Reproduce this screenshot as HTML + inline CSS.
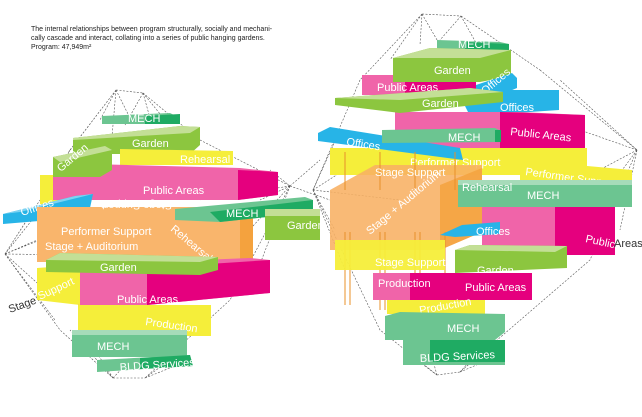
<!DOCTYPE html>
<html><head><meta charset="utf-8"><style>
html,body{margin:0;padding:0;background:#fff;width:642px;height:417px;overflow:hidden}
svg{display:block}
text{font-family:"Liberation Sans",sans-serif;fill:#fff;font-size:11px}
.cap{fill:#222;font-size:7px}
.d{stroke:#555;stroke-width:0.6;stroke-dasharray:2 1.5;fill:none}
</style></head><body>
<svg width="642" height="417" viewBox="0 0 642 417">
<text class="cap" x="31" y="31">The internal relationships between program structurally, socially and mechani-</text>
<text class="cap" x="31" y="40">cally cascade and interact, collating into a series of public hanging gardens.</text>
<text class="cap" x="31" y="49">Program: 47,949m²</text>

<g class="d">
<path d="M116 90 L143 93 M116 90 L70 150 M116 90 L100 120 M116 90 L130 118 M116 90 L110 160 M143 93 L165 120 M143 93 L200 140 M143 93 L125 125 M116 90 L55 170 M143 93 L150 118"/>
<path d="M5 254 L40 200 M5 254 L60 230 M5 254 L45 290 M5 254 L80 255 M5 254 L30 215 M5 254 L55 320 M5 254 L40 240"/>
<path d="M290 186 L270 170 M290 186 L240 240 M290 186 L320 160 M290 186 L250 290 M290 186 L330 200 M290 186 L200 200 M290 186 L260 200"/>
<path d="M113 378 L145 378 M113 378 L95 350 M113 378 L130 360 M145 378 L170 360 M145 378 L190 360 M113 378 L70 330"/>
<path d="M70 150 L40 210 L5 254 M200 140 L290 186 M5 254 L60 330 L113 378 M290 186 L230 300 L145 378"/>
</g>
<g class="d">
<path d="M422 14 L461 16 M422 14 L390 60 M422 14 L420 45 M422 14 L440 45 M461 16 L480 50 M461 16 L440 40 M461 16 L540 70 M422 14 L360 80"/>
<path d="M637 150 L560 80 M637 150 L600 200 M637 150 L590 175 M637 150 L620 230 M637 150 L580 130"/>
<path d="M313 190 L340 130 M313 190 L360 160 M313 190 L335 230 M313 190 L345 270 M313 190 L400 200"/>
<path d="M437 375 L460 372 M437 375 L410 355 M437 375 L430 350 M460 372 L480 350 M460 372 L500 355"/>
<path d="M360 80 L313 190 L380 330 L437 375 M540 70 L637 150 L590 260 L460 372"/>
</g>

<!-- LEFT CLUSTER -->
<polygon points="102,116 170,113 180,118 180,124 102,124" fill="#6cc591"/>
<polygon points="145,116 180,114 180,124 145,124" fill="#1fab63"/>
<text x="128" y="122" font-size="10">MECH</text>
<polygon points="73,138 180,126 200,127 200,145 190,154 73,154" fill="#8cc63f"/>
<polygon points="73,138 180,126 200,127 190,133 73,140" fill="#c3df96"/>
<text x="132" y="147">Garden</text>
<polygon points="120,149 233,151 233,165 120,165" fill="#f5ee3a"/>
<text x="180" y="163" font-size="10">Rehearsal</text>
<rect x="40" y="175" width="18" height="60" fill="#f5ee3a"/>
<polygon points="53,163 240,168 278,172 278,195 238,200 53,200" fill="#f064a9"/>
<polygon points="238,170 278,172 278,195 238,200" fill="#e5007e"/>
<polygon points="53,157 105,146 112,150 112,170 100,177 53,177" fill="#8cc63f"/>
<polygon points="53,157 105,146 112,150 60,162" fill="#c3df96"/>
<text x="57" y="170" font-size="10" transform="rotate(-40 62 166)">Garden</text>
<text x="143" y="194" font-size="11">Public Areas</text>
<polygon points="3,214 75,196 93,194 90,208 75,218 3,224" fill="#27b4e7"/>
<polygon points="3,214 75,196 93,194 20,212" fill="#7dd3f2"/>
<text x="22" y="216" font-size="10" transform="rotate(-18 22 216)">Offices</text>
<rect x="37" y="207" width="216" height="55" fill="#f9b56c"/>
<rect x="240" y="210" width="13" height="50" fill="#f4a23e"/>
<text x="108" y="210" font-size="10" transform="rotate(180 140 206)">Stage Support</text>
<text x="61" y="235">Performer Support</text>
<text x="45" y="250">Stage + Auditorium</text>
<text x="170" y="230" font-size="10" transform="rotate(40 170 230)">Rehearsal</text>
<polygon points="175,209 305,197 313,200 313,212 220,222 175,220" fill="#6cc591"/>
<polygon points="210,212 313,200 313,212 220,222" fill="#1fab63"/>
<text x="226" y="217">MECH</text>
<rect x="265" y="209" width="55" height="31" fill="#8cc63f"/>
<rect x="265" y="209" width="55" height="7" fill="#c3df96"/>
<text x="287" y="229">Garden</text>
<polygon points="78,265 250,258 270,260 270,293 147,305 78,305" fill="#f064a9"/>
<polygon points="147,268 270,260 270,293 147,305" fill="#e5007e"/>
<polygon points="37,268 80,265 80,305 37,300" fill="#f5ee3a"/>
<text x="40" y="300" font-size="10" transform="rotate(-25 40 300)">Support</text>
<text x="10" y="313" font-size="10" style="fill:#333" transform="rotate(-20 10 313)">Stage</text>
<polygon points="46,260 60,253 218,257 218,270 200,275 46,272" fill="#8cc63f"/>
<polygon points="46,260 60,253 218,257 200,262" fill="#c3df96"/>
<text x="100" y="271">Garden</text>
<text x="117" y="303">Public Areas</text>
<rect x="78" y="305" width="133" height="31" fill="#f5ee3a"/>
<text x="145" y="325" font-size="10" transform="rotate(8 145 325)">Production</text>
<rect x="72" y="330" width="115" height="27" fill="#6cc591"/>
<rect x="72" y="330" width="115" height="5" fill="#a6dbb9"/>
<text x="97" y="350">MECH</text>
<polygon points="97,360 190,355 193,366 97,372" fill="#6cc591"/>
<polygon points="140,358 190,355 193,366 140,369" fill="#1fab63"/>
<text x="120" y="371" font-size="10" transform="rotate(-4 120 371)">BLDG Services</text>

<!-- RIGHT CLUSTER -->
<polygon points="437,40 500,42 509,44 509,51 437,51" fill="#6cc591"/>
<polygon points="465,42 509,44 509,51 465,51" fill="#1fab63"/>
<text x="458" y="48" font-size="10">MECH</text>
<rect x="362" y="75" width="114" height="20" fill="#f064a9"/>
<rect x="405" y="75" width="71" height="20" fill="#e5007e"/>
<text x="377" y="91">Public Areas</text>
<polygon points="393,58 430,48 511,50 511,76 480,82 393,82" fill="#8cc63f"/>
<polygon points="393,58 430,48 511,50 480,58" fill="#c3df96"/>
<text x="434" y="74">Garden</text>
<polygon points="476,85 512,73 517,78 517,88 500,95 476,95" fill="#27b4e7"/>
<text x="485" y="95" font-size="9" transform="rotate(-40 485 95)">Offices</text>
<polygon points="462,100 490,90 559,90 559,110 470,116" fill="#27b4e7"/>
<text x="500" y="111">Offices</text>
<polygon points="395,112 520,112 585,115 585,148 520,150 395,150" fill="#f064a9"/>
<polygon points="500,112 585,115 585,148 500,150" fill="#e5007e"/>
<text x="510" y="135" transform="rotate(6 510 135)">Public Areas</text>
<polygon points="335,98 470,88 503,92 503,102 400,113 335,105" fill="#8cc63f"/>
<polygon points="335,98 470,88 503,92 400,100" fill="#c3df96"/>
<text x="422" y="107">Garden</text>
<rect x="330" y="148" width="257" height="27" fill="#f5ee3a"/>
<polygon points="520,160 632,170 632,185 520,180" fill="#f5ee3a"/>
<text x="525" y="175" font-size="10" transform="rotate(8 525 175)">Performer Support</text>
<text x="410" y="166" font-size="10">Performer Support</text>
<polygon points="318,133 330,127 460,148 463,160 318,141" fill="#27b4e7"/>
<text x="346" y="145" font-size="10" transform="rotate(9 346 145)">Offices</text>
<polygon points="382,130 495,128 501,131 501,142 382,143" fill="#6cc591"/>
<rect x="495" y="130" width="6" height="12" fill="#1fab63"/>
<text x="448" y="141">MECH</text>
<rect x="482" y="207" width="133" height="48" fill="#f064a9"/>
<rect x="555" y="207" width="60" height="48" fill="#e5007e"/>
<text x="585" y="242" font-size="10" transform="rotate(12 585 242)">Public</text>
<text x="614" y="247" font-size="10" style="fill:#333">Areas</text>
<polygon points="330,190 375,165 482,165 482,232 440,250 330,250" fill="#f8b063" opacity="0.88"/>
<polygon points="440,185 482,168 482,232 440,250" fill="#f4a23e" opacity="0.85"/>
<g stroke="#e8902a" stroke-width="1">
<path d="M345 152 L345 190 M380 152 L380 190 M415 152 L415 190 M455 152 L455 190"/>
<path d="M345 232 L345 305 M350 232 L350 305 M380 232 L380 310 M385 232 L385 310 M415 232 L415 310 M420 232 L420 310 M445 232 L445 300"/>
</g>
<text x="375" y="176" font-size="10">Stage Support</text>
<text x="370" y="235" transform="rotate(-40 370 235)">Stage + Auditorium</text>
<rect x="458" y="180" width="174" height="27" fill="#6cc591"/>
<rect x="458" y="180" width="174" height="5" fill="#a6dbb9"/>
<text x="462" y="191" font-size="10">Rehearsal</text>
<text x="527" y="199">MECH</text>
<polygon points="440,235 462,225 500,222 500,234 455,237" fill="#27b4e7"/>
<text x="476" y="235" font-size="10">Offices</text>
<rect x="335" y="240" width="110" height="30" fill="#f5ee3a" opacity="0.95"/>
<text x="375" y="266" font-size="10">Stage Support</text>
<polygon points="455,250 470,245 567,246 567,268 455,273" fill="#8cc63f"/>
<polygon points="455,250 470,245 567,246 555,252" fill="#c3df96"/>
<text x="477" y="274" font-size="10">Garden</text>
<rect x="373" y="273" width="159" height="27" fill="#f064a9"/>
<rect x="410" y="273" width="122" height="27" fill="#e5007e"/>
<text x="378" y="287" font-size="10">Production</text>
<text x="465" y="291">Public Areas</text>
<rect x="387" y="300" width="98" height="14" fill="#f5ee3a"/>
<text x="420" y="314" font-size="10" transform="rotate(-10 420 314)">Production</text>
<polygon points="385,316 400,312 505,314 505,332 495,340 385,340" fill="#6cc591"/>
<text x="447" y="332">MECH</text>
<rect x="403" y="340" width="102" height="25" fill="#6cc591"/>
<rect x="430" y="340" width="75" height="22" fill="#1fab63"/>
<text x="420" y="362" font-size="10" transform="rotate(-3 420 362)">BLDG Services</text>
</svg>
</body></html>
